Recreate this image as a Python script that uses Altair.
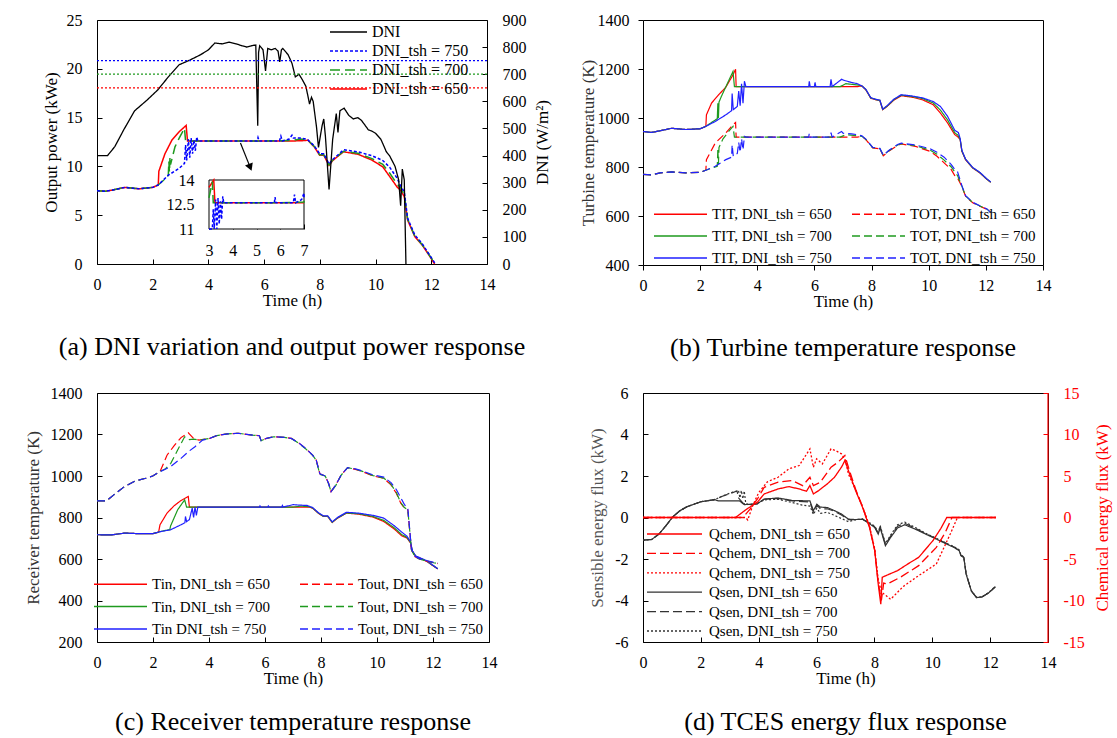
import altair as alt
import pandas as pd

FONT = "Liberation Serif"
RED = "#ff0000"
GREEN = "#1f9a1f"
BLUE = "#2020ff"
DARK = "#333333"

# ---------------- Panel (a): DNI and output power ----------------
DNI_CURVE = [(0, 400), (0.38, 400), (0.64, 433), (0.96, 495), (1.35, 565), (1.8, 605), (2.18, 642),
             (2.56, 690), (2.95, 735), (3.33, 752), (3.72, 772), (4.0, 790), (4.23, 815), (4.5, 812),
             (4.74, 818), (5.0, 812), (5.2, 805), (5.38, 800), (5.55, 805), (5.7, 808), (5.77, 510),
             (5.8, 780), (5.84, 805), (5.96, 790), (6.05, 712), (6.13, 795), (6.25, 790), (6.4, 795),
             (6.5, 785), (6.56, 745), (6.62, 790), (6.67, 795), (6.86, 772), (7.0, 740), (7.12, 690),
             (7.25, 700), (7.37, 680), (7.5, 655), (7.63, 590), (7.7, 615), (7.76, 600), (7.88, 505),
             (7.95, 430), (8.08, 510), (8.14, 535), (8.2, 470), (8.33, 275), (8.46, 460), (8.59, 555),
             (8.65, 485), (8.72, 565), (8.87, 575), (9.04, 548), (9.2, 535), (9.36, 540), (9.49, 530),
             (9.6, 515), (9.74, 495), (9.87, 490), (10.0, 482), (10.19, 460), (10.32, 430), (10.38, 415),
             (10.51, 398), (10.7, 360), (10.83, 310), (10.9, 215), (10.96, 350), (11.03, 310), (11.09, 0)]

POWER_650 = [(0, 7.5), (0.3, 7.45), (0.6, 7.6), (1.0, 7.85), (1.5, 7.7), (2.0, 7.85), (2.2, 8.1),
             (2.22, 9.5), (2.44, 11.3), (2.69, 12.7), (2.95, 13.55), (3.2, 14.2), (3.25, 12.6), (4.0, 12.6),
             (5.0, 12.6), (6.0, 12.6), (7.0, 12.6), (7.5, 12.65), (7.56, 12.7), (7.8, 12.0), (7.99, 11.15),
             (8.14, 11.15), (8.33, 10.1), (8.46, 10.6), (8.85, 11.5), (9.36, 11.25), (9.87, 10.65),
             (10.26, 9.95), (10.51, 8.95), (10.77, 7.9), (10.9, 7.55), (11.03, 6.9), (11.15, 4.5),
             (11.41, 2.8), (11.67, 1.95), (11.92, 0.9), (12.12, 0)]
POWER_700 = [(0, 7.5), (0.3, 7.45), (0.6, 7.6), (1.0, 7.85), (1.5, 7.7), (2.0, 7.85), (2.2, 8.1),
             (2.4, 8.6), (2.56, 9.1), (2.58, 10.5), (2.6, 9.4), (2.62, 11.0), (2.64, 10.2), (2.8, 12.0),
             (2.95, 12.9), (3.14, 13.9), (3.18, 12.6), (4.0, 12.6), (5.0, 12.6), (6.0, 12.6), (7.0, 12.65),
             (7.3, 12.8), (7.5, 12.75), (7.56, 12.7), (7.8, 12.05), (7.99, 11.2), (8.14, 11.2), (8.33, 10.15),
             (8.46, 10.65), (8.85, 11.55), (9.36, 11.35), (9.87, 10.8), (10.26, 10.2), (10.51, 9.3),
             (10.77, 8.2), (10.9, 7.8), (11.03, 7.1), (11.15, 4.6), (11.41, 2.85), (11.67, 2.0),
             (11.92, 0.95), (12.14, 0)]
POWER_750 = [(0, 7.5), (0.3, 7.45), (0.6, 7.6), (1.0, 7.85), (1.5, 7.7), (2.0, 7.85), (2.2, 8.1),
             (2.56, 9.1), (2.95, 9.8), (3.14, 10.3), (3.18, 12.2), (3.22, 10.6), (3.28, 12.8), (3.33, 10.9),
             (3.38, 12.9), (3.43, 11.3), (3.48, 12.7), (3.53, 11.6), (3.58, 13.0), (3.62, 12.6), (4.0, 12.6),
             (5.0, 12.6), (5.75, 12.6), (5.78, 12.95), (5.82, 12.6), (6.0, 12.6), (6.55, 12.6), (6.6, 13.1),
             (6.65, 12.6), (6.9, 12.8), (7.0, 13.2), (7.05, 12.9), (7.3, 12.9), (7.5, 12.8), (7.56, 12.75),
             (7.8, 12.1), (7.99, 11.3), (8.14, 11.3), (8.33, 10.25), (8.46, 10.7), (8.85, 11.7),
             (9.36, 11.5), (9.87, 11.1), (10.26, 10.6), (10.51, 9.9), (10.77, 8.8), (10.9, 8.0),
             (11.03, 7.4), (11.15, 4.7), (11.41, 2.95), (11.67, 2.1), (11.92, 1.0), (12.15, 0)]
THRESHOLDS = [("DNI_tsh = 750", 750), ("DNI_tsh = 700", 700), ("DNI_tsh = 650", 650)]
ARROW = [(5.15, 12.4), (5.5, 9.9)]
INSET_T = [3, 7]
INSET_P = [11, 14]

# ---------------- Panel (b): turbine temperatures ----------------
TIT_650 = [(0, 945), (0.3, 941), (0.6, 948), (1.0, 958), (1.5, 953), (2.0, 956), (2.2, 966), (2.22, 1013),
           (2.4, 1061), (2.65, 1095), (2.9, 1126), (3.15, 1176), (3.24, 1199), (3.26, 1128), (5.0, 1128),
           (7.0, 1128), (7.5, 1128), (7.66, 1131), (7.8, 1115), (7.97, 1081), (8.16, 1074), (8.29, 1071),
           (8.39, 1034), (8.54, 1047), (8.79, 1074), (9.04, 1091), (9.41, 1085), (9.79, 1074), (10.16, 1054),
           (10.41, 1020), (10.66, 980), (10.91, 932), (11.0, 925), (11.1, 912), (11.16, 864), (11.29, 830),
           (11.54, 796), (11.79, 776), (12.04, 749), (12.17, 738)]
TIT_700 = [(0, 945), (0.3, 941), (0.6, 948), (1.0, 958), (1.5, 953), (2.0, 956), (2.2, 966), (2.4, 982),
           (2.6, 997), (2.62, 1060), (2.64, 1000), (2.66, 1065), (2.75, 1090), (2.95, 1140), (3.15, 1190),
           (3.2, 1128), (5.0, 1128), (6.9, 1128), (7.1, 1140), (7.5, 1135), (7.66, 1131), (7.8, 1116),
           (7.97, 1082), (8.16, 1075), (8.29, 1072), (8.39, 1035), (8.54, 1048), (8.79, 1076), (9.04, 1093),
           (9.41, 1088), (9.79, 1079), (10.16, 1061), (10.41, 1032), (10.66, 992), (10.91, 940), (11.02, 930),
           (11.1, 914), (11.16, 866), (11.29, 831), (11.54, 797), (11.79, 777), (12.04, 750), (12.17, 738)]
TIT_750 = [(0, 945), (0.3, 941), (0.6, 948), (1.0, 958), (1.5, 953), (2.0, 956), (2.2, 966), (2.53, 986),
           (2.9, 1013), (3.1, 1030), (3.12, 1100), (3.16, 1034), (3.3, 1047), (3.35, 1110), (3.4, 1050),
           (3.45, 1140), (3.5, 1060), (3.55, 1150), (3.6, 1128), (5.0, 1128), (5.8, 1128), (5.82, 1150),
           (5.85, 1128), (6.0, 1128), (6.02, 1145), (6.05, 1128), (6.55, 1128), (6.58, 1158), (6.62, 1128),
           (6.95, 1158), (7.0, 1155), (7.3, 1145), (7.5, 1140), (7.66, 1131), (7.8, 1117), (7.97, 1083),
           (8.16, 1076), (8.29, 1073), (8.39, 1036), (8.54, 1050), (8.79, 1078), (9.04, 1095), (9.41, 1090),
           (9.79, 1082), (10.16, 1067), (10.41, 1047), (10.66, 1007), (10.91, 950), (11.04, 940), (11.1, 916),
           (11.16, 868), (11.29, 832), (11.54, 798), (11.79, 778), (12.04, 751), (12.17, 739)]
TOT_650 = [(0, 770), (0.3, 768), (0.6, 776), (1.0, 780), (1.5, 776), (2.0, 778), (2.2, 787), (2.22, 830),
           (2.53, 898), (2.9, 939), (3.15, 973), (3.24, 982), (3.26, 922), (5.0, 922), (7.0, 922), (7.5, 922),
           (7.66, 925), (7.8, 912), (8.04, 878), (8.29, 874), (8.41, 846), (8.6, 864), (8.91, 888), (9.04, 894),
           (9.54, 884), (10.04, 864), (10.29, 844), (10.54, 817), (10.79, 789), (10.91, 765), (11.01, 755),
           (11.16, 721), (11.29, 681), (11.54, 654), (11.79, 640), (12.04, 627), (12.17, 613)]
TOT_700 = [(0, 770), (0.3, 768), (0.6, 776), (1.0, 780), (1.5, 776), (2.0, 778), (2.2, 787), (2.4, 795),
           (2.6, 803), (2.62, 875), (2.64, 812), (2.66, 880), (2.8, 915), (3.0, 945), (3.15, 966), (3.2, 922),
           (5.0, 922), (6.9, 922), (7.1, 932), (7.5, 928), (7.66, 925), (7.8, 913), (8.04, 879), (8.29, 875),
           (8.41, 847), (8.6, 866), (8.91, 890), (9.04, 895), (9.54, 887), (10.04, 869), (10.29, 852),
           (10.54, 828), (10.79, 800), (10.91, 780), (11.01, 765), (11.16, 722), (11.29, 682), (11.54, 655),
           (11.79, 641), (12.04, 628), (12.17, 614)]
TOT_750 = [(0, 770), (0.3, 768), (0.6, 776), (1.0, 780), (1.5, 776), (2.0, 778), (2.2, 787), (2.53, 803),
           (2.9, 830), (3.1, 840), (3.12, 890), (3.16, 844), (3.3, 855), (3.35, 900), (3.4, 860), (3.45, 915),
           (3.5, 870), (3.55, 925), (3.6, 922), (5.0, 922), (5.8, 922), (5.82, 938), (5.85, 922), (6.55, 922),
           (6.58, 940), (6.62, 922), (6.95, 945), (7.0, 938), (7.3, 935), (7.5, 932), (7.66, 927), (7.8, 914),
           (8.04, 880), (8.29, 876), (8.41, 848), (8.6, 867), (8.91, 892), (9.04, 897), (9.54, 890),
           (10.04, 875), (10.29, 860), (10.54, 840), (10.79, 810), (10.91, 790), (11.01, 780), (11.16, 724),
           (11.29, 683), (11.54, 656), (11.79, 642), (12.04, 629), (12.17, 615)]

# ---------------- Panel (c): receiver temperatures ----------------
TOUT_650 = [(0, 880), (0.34, 880), (0.6, 909), (0.98, 949), (1.36, 976), (1.74, 989), (1.99, 1000),
            (2.25, 1021), (2.5, 1100), (2.75, 1145), (3.0, 1185), (3.26, 1208), (3.45, 1181), (3.64, 1173),
            (4.02, 1181), (4.28, 1195), (4.66, 1203), (5.04, 1206), (5.55, 1197), (5.8, 1194), (5.86, 1170),
            (6.05, 1181), (6.31, 1189), (6.69, 1186), (6.94, 1181), (7.2, 1160), (7.45, 1133), (7.7, 1101),
            (7.83, 1077), (7.96, 1010), (8.15, 1000), (8.27, 965), (8.36, 925), (8.53, 957), (8.72, 1005),
            (8.95, 1040), (9.23, 1032), (9.48, 1021), (9.86, 1000), (10.24, 989), (10.5, 957), (10.69, 917),
            (10.85, 869), (10.98, 845), (11.1, 836), (11.23, 645), (11.35, 612), (11.51, 600), (11.77, 590),
            (12.02, 582), (12.17, 578)]
TOUT_700 = [(0, 880), (0.34, 880), (0.6, 909), (0.98, 949), (1.36, 976), (1.74, 989), (1.99, 1000),
            (2.25, 1021), (2.45, 1035), (2.63, 1060), (2.88, 1125), (3.13, 1189), (3.3, 1175), (3.45, 1178),
            (3.64, 1173), (4.02, 1181), (4.28, 1195), (4.66, 1203), (5.04, 1206), (5.55, 1197), (5.8, 1194),
            (5.86, 1170), (6.05, 1181), (6.31, 1189), (6.69, 1186), (6.94, 1181), (7.2, 1158), (7.45, 1131),
            (7.7, 1100), (7.83, 1075), (7.96, 1008), (8.15, 1000), (8.27, 963), (8.36, 924), (8.53, 955),
            (8.72, 1004), (8.95, 1040), (9.23, 1033), (9.48, 1022), (9.86, 1002), (10.24, 990), (10.5, 960),
            (10.69, 920), (10.85, 872), (10.98, 848), (11.1, 838), (11.23, 645), (11.35, 612), (11.51, 600),
            (11.77, 590), (12.02, 582), (12.17, 578)]
TOUT_750 = [(0, 880), (0.34, 880), (0.6, 909), (0.98, 949), (1.36, 976), (1.74, 989), (1.99, 1000),
            (2.25, 1021), (2.63, 1045), (3.0, 1085), (3.26, 1117), (3.5, 1141), (3.77, 1173), (4.02, 1181),
            (4.28, 1195), (4.66, 1203), (5.04, 1206), (5.55, 1197), (5.8, 1194), (5.86, 1170), (6.05, 1181),
            (6.31, 1189), (6.69, 1186), (6.94, 1181), (7.2, 1160), (7.45, 1133), (7.7, 1101), (7.83, 1077),
            (7.96, 1010), (8.15, 1000), (8.27, 965), (8.36, 925), (8.53, 957), (8.72, 1005), (8.95, 1040),
            (9.23, 1034), (9.48, 1024), (9.86, 1005), (10.24, 995), (10.5, 968), (10.69, 935), (10.85, 895),
            (10.98, 862), (11.1, 845), (11.23, 648), (11.35, 614), (11.51, 602), (11.77, 592), (12.02, 584),
            (12.17, 580)]
TIN_650 = [(0, 717), (0.5, 716), (1.0, 725), (1.5, 722), (2.0, 722), (2.2, 730), (2.25, 765), (2.5, 821),
           (2.75, 856), (3.0, 882), (3.26, 901), (3.3, 850), (5.0, 850), (7.58, 850), (7.7, 845), (7.9, 821),
           (8.08, 805), (8.24, 805), (8.4, 776), (8.59, 797), (8.91, 821), (9.35, 816), (9.86, 802),
           (10.24, 781), (10.62, 744), (10.88, 712), (11.07, 701), (11.2, 677), (11.26, 637), (11.38, 613),
           (11.77, 589), (12.17, 552)]
TIN_700 = [(0, 717), (0.5, 716), (1.0, 725), (1.5, 722), (2.0, 722), (2.2, 730), (2.4, 737), (2.6, 741),
           (2.63, 760), (2.88, 837), (3.13, 885), (3.2, 850), (5.0, 850), (7.0, 850), (7.3, 855), (7.58, 852),
           (7.7, 846), (7.9, 822), (8.08, 806), (8.24, 806), (8.4, 777), (8.59, 798), (8.91, 822), (9.35, 818),
           (9.86, 805), (10.24, 786), (10.62, 750), (10.88, 718), (11.07, 704), (11.2, 679), (11.26, 638),
           (11.38, 614), (11.77, 590), (12.17, 553)]
TIN_750 = [(0, 717), (0.5, 716), (1.0, 725), (1.5, 722), (2.0, 722), (2.2, 730), (2.63, 741), (3.0, 765),
           (3.14, 775), (3.16, 805), (3.2, 780), (3.3, 790), (3.4, 845), (3.45, 800), (3.5, 850), (3.55, 810),
           (3.6, 850), (5.0, 850), (5.8, 850), (5.82, 856), (5.85, 850), (6.1, 850), (6.12, 856), (6.15, 850),
           (6.6, 850), (6.62, 858), (6.65, 850), (7.0, 862), (7.2, 860), (7.5, 858), (7.7, 848), (7.9, 824),
           (8.08, 808), (8.24, 808), (8.4, 779), (8.59, 800), (8.91, 825), (9.35, 821), (9.86, 810),
           (10.24, 797), (10.62, 760), (10.88, 730), (11.07, 710), (11.2, 682), (11.26, 640), (11.38, 615),
           (11.77, 592), (12.17, 553)]

# ---------------- Panel (d): TCES energy flux ----------------
QSEN_650 = [(0, -1.09), (0.3, -1.06), (0.55, -0.8), (0.79, -0.4), (1.03, 0.03), (1.27, 0.32), (1.52, 0.52),
            (1.76, 0.64), (2.0, 0.76), (2.25, 0.81), (2.49, 0.85), (2.61, 0.8), (3.34, 0.8), (3.5, 0.62),
            (3.95, 0.66), (4.19, 0.89), (4.67, 0.94), (5.16, 0.82), (5.77, 0.8), (5.89, 0.33), (6.01, 0.64),
            (6.13, 0.5), (6.37, 0.48), (6.62, 0.33), (6.86, 0.17), (7.1, -0.08), (7.35, -0.1), (7.59, -0.08),
            (7.83, -0.3), (8.01, -0.48), (8.13, -0.8), (8.2, -0.5), (8.38, -1.36), (8.56, -0.96), (8.8, -0.5),
            (9.05, -0.35), (9.41, -0.56), (9.77, -0.8), (10.14, -1.04), (10.5, -1.28), (10.75, -1.44),
            (10.93, -1.6), (10.99, -1.84), (11.09, -1.93), (11.17, -2.73), (11.35, -3.54), (11.53, -3.86),
            (11.72, -3.83), (11.96, -3.62), (12.18, -3.34)]
QSEN_700 = [(0, -1.09), (0.3, -1.06), (0.55, -0.8), (0.79, -0.4), (1.03, 0.03), (1.27, 0.32), (1.52, 0.52),
            (1.76, 0.64), (2.0, 0.76), (2.25, 0.81), (2.49, 0.87), (2.7, 1.0), (2.9, 1.1), (3.1, 1.2),
            (3.25, 1.28), (3.3, 0.95), (3.45, 0.7), (3.6, 0.62), (3.95, 0.66), (4.19, 0.88), (4.67, 0.92),
            (5.16, 0.8), (5.77, 0.75), (5.89, 0.25), (6.01, 0.6), (6.13, 0.42), (6.37, 0.42), (6.62, 0.3),
            (6.86, 0.12), (7.1, -0.1), (7.35, -0.1), (7.59, -0.08), (7.83, -0.28), (8.01, -0.45), (8.13, -0.75),
            (8.2, -0.45), (8.38, -1.3), (8.56, -0.9), (8.8, -0.42), (9.05, -0.28), (9.41, -0.52), (9.77, -0.78),
            (10.14, -1.02), (10.5, -1.26), (10.75, -1.42), (10.93, -1.58), (10.99, -1.82), (11.09, -1.92),
            (11.17, -2.73), (11.35, -3.54), (11.53, -3.86), (11.72, -3.83), (11.96, -3.62), (12.18, -3.34)]
QSEN_750 = [(0, -1.09), (0.3, -1.06), (0.55, -0.8), (0.79, -0.4), (1.03, 0.03), (1.27, 0.32), (1.52, 0.52),
            (1.76, 0.64), (2.0, 0.76), (2.25, 0.81), (2.49, 0.87), (2.7, 1.0), (2.9, 1.12), (3.1, 1.22),
            (3.3, 1.3), (3.35, 0.95), (3.4, 1.3), (3.45, 0.9), (3.5, 1.28), (3.55, 0.7), (3.65, 0.6),
            (3.95, 0.68), (4.19, 0.85), (4.67, 0.88), (5.16, 0.72), (5.5, 0.6), (5.77, 0.55), (5.89, 0.15),
            (6.01, 0.45), (6.13, 0.2), (6.37, 0.25), (6.62, 0.1), (6.86, -0.05), (7.1, -0.2), (7.35, -0.1),
            (7.59, -0.08), (7.83, -0.25), (8.01, -0.42), (8.13, -0.7), (8.2, -0.4), (8.38, -1.25), (8.56, -0.85),
            (8.8, -0.35), (9.05, -0.22), (9.41, -0.48), (9.77, -0.76), (10.14, -1.0), (10.5, -1.25),
            (10.75, -1.4), (10.93, -1.56), (10.99, -1.8), (11.09, -1.9), (11.17, -2.7), (11.35, -3.52),
            (11.53, -3.85), (11.72, -3.82), (11.96, -3.6), (12.18, -3.32)]
QCHEM_650 = [(0, 0), (3.2, 0), (3.58, 1.0), (3.95, 1.83), (4.19, 2.84), (4.67, 3.44), (5.04, 3.72), (5.4, 3.44),
             (5.65, 3.16), (5.77, 3.85), (5.89, 2.84), (6.07, 3.24), (6.37, 4.05), (6.62, 4.85), (6.86, 6.06),
             (6.98, 6.86), (7.1, 5.66), (7.35, 3.24), (7.59, 1.22), (7.83, -1.21), (8.01, -4.0), (8.13, -8.0),
             (8.22, -10.45), (8.27, -7.2), (8.4, -7.0), (8.8, -6.4), (9.2, -5.5), (9.53, -4.8), (10.02, -2.8),
             (10.3, -1.3), (10.5, 0), (12.2, 0)]
QCHEM_700 = [(0, 0), (3.45, 0), (3.7, 1.0), (3.95, 2.2), (4.19, 3.64), (4.67, 4.25), (5.16, 4.45), (5.52, 3.84),
             (5.77, 4.85), (5.89, 3.84), (6.13, 4.25), (6.5, 6.06), (6.74, 6.66), (6.98, 7.47), (7.1, 6.06),
             (7.35, 3.4), (7.59, 1.3), (7.83, -1.1), (8.01, -3.9), (8.13, -7.8), (8.24, -10.0), (8.32, -7.9),
             (8.45, -8.0), (8.9, -7.2), (9.53, -5.8), (10.14, -3.6), (10.45, -1.8), (10.68, 0), (12.2, 0)]
QCHEM_750 = [(0, 0), (3.55, 0), (3.62, -0.3), (3.8, 1.5), (4.0, 3.0), (4.3, 4.3), (4.67, 4.85), (5.04, 5.86),
             (5.4, 6.26), (5.77, 8.27), (5.89, 6.06), (6.0, 7.07), (6.2, 6.46), (6.5, 8.27), (6.65, 8.07),
             (6.86, 7.67), (7.0, 6.86), (7.1, 5.25), (7.35, 3.3), (7.59, 1.3), (7.83, -1.0), (8.01, -3.8),
             (8.13, -7.5), (8.25, -9.0), (8.4, -9.4), (8.56, -9.85), (9.0, -8.3), (9.53, -7.0), (10.14, -5.6),
             (10.62, -2.0), (10.87, 0), (12.2, 0)]


def frame(items):
    rows = []
    for name, pts in items:
        for i, (t, v) in enumerate(pts):
            rows.append({"t": t, "v": v, "s": name, "i": i})
    return pd.DataFrame(rows)


X_SCALE = alt.Scale(domain=[0, 14], nice=False, zero=False)
X_TICKS = [0, 2, 4, 6, 8, 10, 12, 14]
LBL = "datum.value + ''"


def x_axis(inward=True):
    return alt.Axis(title="Time (h)", values=X_TICKS, offset=-5 if inward else 0, tickSize=5, domain=False,
                    labelPadding=12 if inward else 7, titlePadding=0, labelExpr=LBL)


def y_axis(title, values, orient="left", inward=True, labelPadding=15, titlePadding=7, **kw):
    return alt.Axis(title=title, values=values, orient=orient, offset=-5 if inward else 0, tickSize=5,
                    domain=False, labelPadding=labelPadding if inward else labelPadding - 5,
                    titlePadding=titlePadding, labelExpr=LBL, **kw)


def caption(text, offset):
    return alt.TitleParams(text, orient="bottom", anchor="middle", frame="group", offset=offset,
                           fontSize=26, font=FONT, fontWeight="normal", color="black")


def legend(**kw):
    base = dict(title=None, orient="none", symbolType="stroke", symbolStrokeWidth=1.5, padding=0,
                labelFont=FONT, labelColor="black")
    base.update(kw)
    return alt.Legend(**base)


# ---------------- build panel (a) ----------------
A_DOM = ["DNI", "DNI_tsh = 750", "DNI_tsh = 700", "DNI_tsh = 650"]
A_COL = ["#000000", "#0000ff", GREEN, RED]
A_DASH = [[1, 0], [3, 2], [10, 5], [1, 0]]
leg_a = legend(legendX=232, legendY=4, symbolSize=1369, labelFontSize=16, labelOffset=4, rowPadding=3,
               clipHeight=16)
col_a = alt.Color("s:N", scale=alt.Scale(domain=A_DOM, range=A_COL), legend=leg_a)
dash_a = alt.StrokeDash("s:N", scale=alt.Scale(domain=A_DOM, range=A_DASH), legend=leg_a)

power_df = frame([("DNI_tsh = 650", POWER_650), ("DNI_tsh = 700", POWER_700), ("DNI_tsh = 750", POWER_750)])
dni_df = frame([("DNI", DNI_CURVE)])
thr_df = pd.DataFrame({"s": [n for n, _ in THRESHOLDS], "v": [v for _, v in THRESHOLDS]})
arrow_df = frame([("arrow", ARROW)])
box_df = pd.DataFrame({"t": [INSET_T[0]], "t2": [INSET_T[1]], "v": [INSET_P[0]], "v2": [INSET_P[1]]})

x_a = alt.X("t:Q", scale=X_SCALE, axis=x_axis(True))
y_pow = alt.Y("v:Q", scale=alt.Scale(domain=[0, 25], nice=False),
              axis=y_axis("Output power (kWe)", [0, 5, 10, 15, 20, 25], titlePadding=6))
y_dni = alt.Y("v:Q", scale=alt.Scale(domain=[0, 900], nice=False),
              axis=y_axis("DNI (W/m²)", list(range(0, 901, 100)), orient="right", titlePadding=8,
                          titleAngle=270, titleBaseline="top"))

power = alt.Chart(power_df).mark_line(strokeWidth=1.5).encode(
    x=x_a, y=y_pow, color=col_a, strokeDash=dash_a, order="i:Q")
arrow_line = alt.Chart(arrow_df).mark_line(color="black", strokeWidth=1.2).encode(x=x_a, y=y_pow, order="i:Q")
arrow_head = alt.Chart(arrow_df).transform_filter("datum.i == 1").mark_point(
    shape="triangle-down", filled=True, color="black", size=70, angle=338, opacity=1).encode(x=x_a, y=y_pow)
dni_line = alt.Chart(dni_df).mark_line(strokeWidth=1.3).encode(
    x=x_a, y=y_dni, color=col_a, strokeDash=dash_a, order="i:Q")
thr = alt.Chart(thr_df).mark_rule(strokeDash=[2, 2], strokeWidth=1.3).encode(y=y_dni, color=col_a)

x_in = alt.X("t:Q", scale=alt.Scale(domain=INSET_T, range=[112, 207], clamp=True, nice=False, zero=False),
             axis=alt.Axis(orient="bottom", offset=-40, tickSize=5, domain=False, values=[3, 4, 5, 6, 7],
                           labelPadding=13, title=None, labelExpr=LBL))
y_in = alt.Y("v:Q", scale=alt.Scale(domain=INSET_P, range=[209, 160], clamp=True, nice=False, zero=False),
             axis=alt.Axis(orient="left", offset=-112, tickSize=0, domain=False, values=[11, 12.5, 14],
                           labelPadding=15, title=None, labelExpr=LBL))
box = alt.Chart(box_df).mark_rect(fill="white", stroke="black", strokeWidth=1).encode(
    x=x_in, x2="t2:Q", y=y_in, y2="v2:Q")
inset_lines = alt.Chart(power_df).transform_filter("datum.t >= 2.9 && datum.t <= 7.3").mark_line(
    strokeWidth=1.5).encode(x=x_in, y=y_in, color=col_a, strokeDash=dash_a, order="i:Q")

main_a = alt.layer(alt.layer(power, arrow_line, arrow_head), alt.layer(dni_line, thr)).resolve_scale(
    y="independent")
inset_a = alt.layer(box, inset_lines)
panel_a = alt.layer(main_a, inset_a).resolve_scale(x="independent", y="independent").properties(
    width=390, height=244, title=caption("(a) DNI variation and output power response", 26))

# ---------------- build panel (b) ----------------
B_DOM = ["TIT, DNI_tsh = 650", "TIT, DNI_tsh = 700", "TIT, DNI_tsh = 750",
         "TOT, DNI_tsh = 650", "TOT, DNI_tsh = 700", "TOT, DNI_tsh = 750"]
B_COL = [RED, GREEN, BLUE, RED, GREEN, BLUE]
B_DASH = [[1, 0], [1, 0], [1, 0], [8, 4], [8, 4], [8, 4]]
leg_b = legend(legendX=10, legendY=186.5, columns=2, symbolSize=2809, labelFontSize=15, labelOffset=4,
               rowPadding=6, columnPadding=19, symbolStrokeWidth=1.3, clipHeight=15)
b_df = frame([(B_DOM[0], TIT_650), (B_DOM[1], TIT_700), (B_DOM[2], TIT_750), (B_DOM[3], TOT_650),
              (B_DOM[4], TOT_700), (B_DOM[5], TOT_750)])
panel_b = alt.Chart(b_df).mark_line(strokeWidth=1.2).encode(
    x=alt.X("t:Q", scale=X_SCALE, axis=x_axis(False)),
    y=alt.Y("v:Q", scale=alt.Scale(domain=[400, 1400], nice=False),
            axis=y_axis("Turbine temperature (K)", list(range(400, 1401, 200)), inward=False,
                        labelPadding=14, titlePadding=0, titleColor=DARK)),
    color=alt.Color("s:N", scale=alt.Scale(domain=B_DOM, range=B_COL), legend=leg_b),
    strokeDash=alt.StrokeDash("s:N", scale=alt.Scale(domain=B_DOM, range=B_DASH), legend=leg_b),
    order="i:Q",
).properties(width=400, height=245, title=caption("(b) Turbine temperature response", 26))

# ---------------- build panel (c) ----------------
C_DOM = ["Tin, DNI_tsh = 650", "Tin, DNI_tsh = 700", "Tin DNI_tsh = 750",
         "Tout, DNI_tsh = 650", "Tout, DNI_tsh = 700", "Tout, DNI_tsh = 750"]
leg_c = legend(legendX=-4, legendY=183.5, columns=2, symbolSize=2809, labelFontSize=15, labelOffset=4,
               rowPadding=6.5, columnPadding=29, symbolStrokeWidth=1.3, clipHeight=15)
c_df = frame([(C_DOM[0], TIN_650), (C_DOM[1], TIN_700), (C_DOM[2], TIN_750), (C_DOM[3], TOUT_650),
              (C_DOM[4], TOUT_700), (C_DOM[5], TOUT_750)])
panel_c = alt.Chart(c_df).mark_line(strokeWidth=1.2).encode(
    x=alt.X("t:Q", scale=X_SCALE, axis=x_axis(True)),
    y=alt.Y("v:Q", scale=alt.Scale(domain=[200, 1400], nice=False),
            axis=y_axis("Receiver temperature (K)", list(range(200, 1401, 200)), titlePadding=7.5,
                        titleColor=DARK)),
    color=alt.Color("s:N", scale=alt.Scale(domain=C_DOM, range=B_COL), legend=leg_c),
    strokeDash=alt.StrokeDash("s:N", scale=alt.Scale(domain=C_DOM, range=B_DASH), legend=leg_c),
    order="i:Q",
).properties(width=392, height=249, title=caption("(c) Receiver temperature response", 23))

# ---------------- build panel (d) ----------------
D_DOM = ["Qchem, DNI_tsh = 650", "Qchem, DNI_tsh = 700", "Qchem, DNI_tsh = 750",
         "Qsen, DNI_tsh = 650", "Qsen, DNI_tsh = 700", "Qsen, DNI_tsh = 750"]
D_COL = [RED, RED, RED, DARK, DARK, DARK]
D_DASH = [[1, 0], [9, 4], [2, 2], [1, 0], [9, 4], [2, 2]]
leg_d = legend(legendX=3, legendY=133.5, symbolSize=3025, labelFontSize=15, labelOffset=6, rowPadding=3.4,
               symbolStrokeWidth=1.3, clipHeight=15)
col_d = alt.Color("s:N", scale=alt.Scale(domain=D_DOM, range=D_COL), legend=leg_d)
dash_d = alt.StrokeDash("s:N", scale=alt.Scale(domain=D_DOM, range=D_DASH), legend=leg_d)
sen_df = frame([(D_DOM[3], QSEN_650), (D_DOM[4], QSEN_700), (D_DOM[5], QSEN_750)])
chem_df = frame([(D_DOM[0], QCHEM_650), (D_DOM[1], QCHEM_700), (D_DOM[2], QCHEM_750)])
x_d = alt.X("t:Q", scale=X_SCALE, axis=x_axis(True))
sen = alt.Chart(sen_df).mark_line(strokeWidth=1.2).encode(
    x=x_d,
    y=alt.Y("v:Q", scale=alt.Scale(domain=[-6, 6], nice=False),
            axis=y_axis("Sensible energy flux (kW)", [-6, -4, -2, 0, 2, 4, 6], titlePadding=8,
                        titleColor="#555555")),
    color=col_d, strokeDash=dash_d, order="i:Q")
chem = alt.Chart(chem_df).mark_line(strokeWidth=1.3).encode(
    x=x_d,
    y=alt.Y("v:Q", scale=alt.Scale(domain=[-15, 15], nice=False),
            axis=y_axis("Chemical energy flux (kW)", [-15, -10, -5, 0, 5, 10, 15], orient="right",
                        titlePadding=10, titleAngle=270, titleBaseline="top", labelColor=RED,
                        titleColor=RED, tickColor=RED)),
    color=col_d, strokeDash=dash_d, order="i:Q")
red_edge = alt.Chart(pd.DataFrame({"t": [14]})).mark_rule(color=RED, strokeWidth=1.2).encode(
    x=alt.X("t:Q", scale=X_SCALE, axis=x_axis(True)))
panel_d = alt.layer(alt.layer(sen, red_edge), chem).resolve_scale(y="independent").properties(
    width=405, height=249, title=caption("(d) TCES energy flux response", 23))

chart = alt.concat(
    panel_a, panel_b, panel_c, panel_d, columns=2, spacing={"row": 128, "column": 154}, bounds="flush"
).resolve_scale(
    color="independent", strokeDash="independent"
).properties(
    padding={"left": 24, "top": 11, "right": 2, "bottom": 0}
).configure(font=FONT).configure_view(stroke="black", strokeWidth=1).configure_axis(
    labelFont=FONT, titleFont=FONT, labelFontSize=16, titleFontSize=17, titleFontWeight="normal",
    labelColor="black", titleColor="black", tickColor="black", grid=False, labelFlush=False,
    labelOverlap=False
).configure_legend(labelFont=FONT).configure_title(font=FONT, fontWeight="normal")

chart.save("out.html", embed_options={"renderer": "svg", "actions": False})
